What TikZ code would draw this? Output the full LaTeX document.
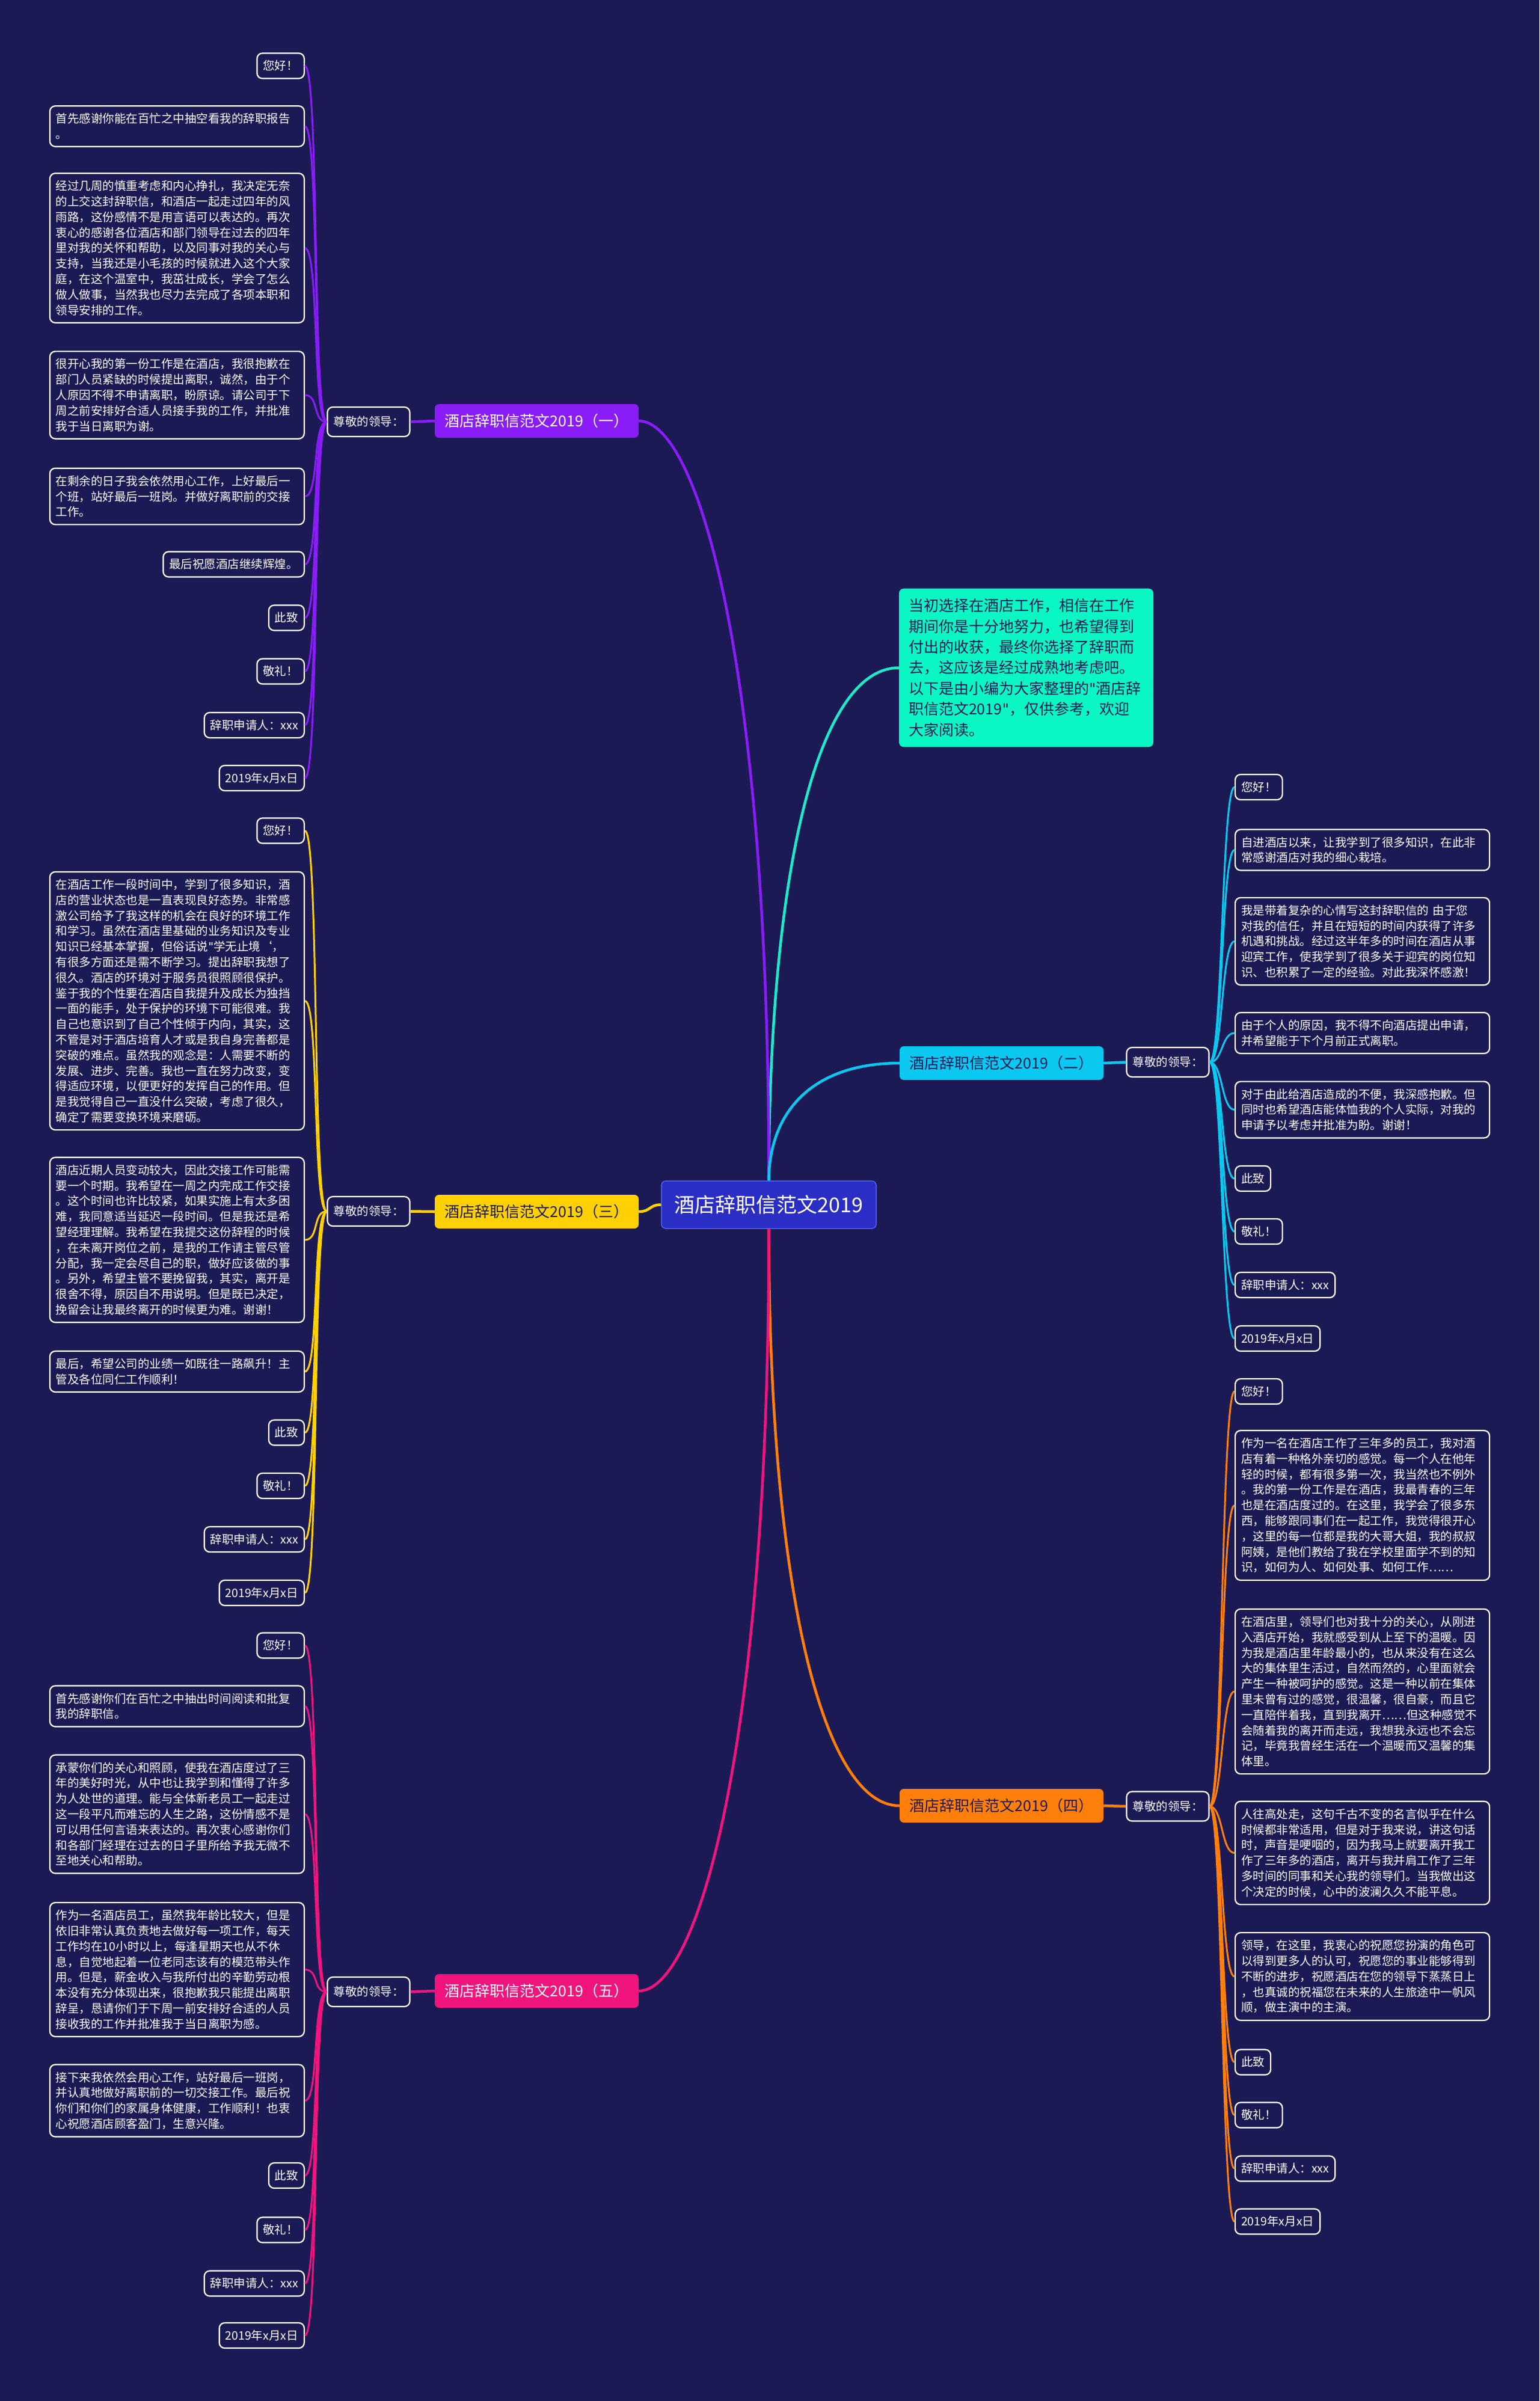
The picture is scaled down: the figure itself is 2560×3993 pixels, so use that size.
\documentclass[tikz,border=0pt]{standalone}
\usepackage{fontspec}
\setmainfont{Noto Sans CJK SC}
\newfontfamily\latinq{DejaVu Sans}
\newcommand{\sq}{{\latinq\symbol{34}}}
\definecolor{bgc}{RGB}{27,26,84}
\definecolor{rootc}{RGB}{42,46,196}
\definecolor{rootb}{RGB}{80,96,255}
\definecolor{introc}{RGB}{10,247,196}
\definecolor{introl}{RGB}{30,233,200}
\definecolor{c1}{RGB}{138,28,247}
\definecolor{c2}{RGB}{11,200,240}
\definecolor{c3}{RGB}{255,209,0}
\definecolor{c4}{RGB}{255,127,13}
\definecolor{c5}{RGB}{240,20,125}
\definecolor{darkt}{RGB}{27,26,84}
\begin{document}
\begin{tikzpicture}[x=1pt,y=-1pt,
  leaf/.style={draw=white, line width=2.2pt, fill=bgc, rounded corners=9pt, text=white,
    font=\fontsize{19.5pt}{25.8pt}\selectfont, inner xsep=10pt, inner ysep=12pt, align=left},
  wide/.style={leaf, text width=403pt},
  hub/.style={leaf, minimum height=49pt},
  branch/.style={rounded corners=7pt, font=\fontsize{25pt}{30pt}\selectfont, minimum width=339pt, minimum height=56pt, inner xsep=15pt},
  rootbox/.style={rounded corners=7pt, fill=rootc, draw=rootb, line width=1.5pt, text=white, font=\fontsize{34pt}{40pt}\selectfont, minimum width=357pt, minimum height=79pt},
  intro/.style={rounded corners=8pt, fill=introc, text=darkt, font=\fontsize{25pt}{34.4pt}\selectfont, text width=391pt, inner xsep=16pt, inner ysep=17pt, align=left},
  main/.style={line width=4.5pt},
  twig/.style={line width=3pt}
]
\fill[bgc] (0,0) rectangle (2560,3993);
\useasboundingbox (0,0) rectangle (2560,3993);

% root and intro
\node[rootbox] (root) at (1278.5,2003.5) {酒店辞职信范文2019};
\node[intro] (intro) at (1706.5,1110.5) {当初选择在酒店工作，相信在工作\\期间你是十分地努力，也希望得到\\付出的收获，最终你选择了辞职而\\去，这应该是经过成熟地考虑吧。\\以下是由小编为大家整理的\sq 酒店辞\\职信范文2019\sq ，仅供参考，欢迎\\大家阅读。};

% branch titles
\node[branch, fill=c1, text=white] (b1) at (892.5,700) {酒店辞职信范文2019（一）};
\node[branch, fill=c2, text=darkt] (b2) at (1665.5,1768) {酒店辞职信范文2019（二）};
\node[branch, fill=c3, text=darkt] (b3) at (892.5,2015) {酒店辞职信范文2019（三）};
\node[branch, fill=c4, text=darkt] (b4) at (1665.5,3003) {酒店辞职信范文2019（四）};
\node[branch, fill=c5, text=white] (b5) at (892.5,3311) {酒店辞职信范文2019（五）};

% hubs
\node[hub] (z1) at (613,701.5) {尊敬的领导：};
\node[hub] (z2) at (1942,1766.5) {尊敬的领导：};
\node[hub] (z3) at (613,2014.5) {尊敬的领导：};
\node[hub] (z4) at (1942,3004) {尊敬的领导：};
\node[hub] (z5) at (613,3312.5) {尊敬的领导：};

% root connectors
\draw[main, introl] (root.north) .. controls (1279,1450) and (1360,1110.5) .. (intro.west);
\draw[main, c1] (root.north) .. controls (1279,1100) and (1160,700) .. (b1.east);
\draw[main, c2] (root.north) .. controls (1279,1850) and (1350,1768) .. (b2.west);
\draw[main, c3] (root.west) .. controls +(-20,0) and +(20,0) .. (b3.east);
\draw[main, c4] (root.south) .. controls (1279,2650) and (1370,3003) .. (b4.west);
\draw[main, c5] (root.south) .. controls (1279,2907) and (1160,3311) .. (b5.east);

% branch to hub
\draw[main, c1] (b1.west) -- (z1.east);
\draw[main, c2] (b2.east) -- (z2.west);
\draw[main, c3] (b3.west) -- (z3.east);
\draw[main, c4] (b4.east) -- (z4.west);
\draw[main, c5] (b5.west) -- (z5.east);

% ---------- branch 1 leaves
\node[leaf, anchor=east] (a1) at (507,109.5) {您好！};
\node[wide, anchor=east] (a2) at (507,210) {首先感谢你能在百忙之中抽空看我的辞职报告\\。};
\node[wide, anchor=east] (a3) at (507,412.5) {经过几周的慎重考虑和内心挣扎，我决定无奈\\的上交这封辞职信，和酒店一起走过四年的风\\雨路，这份感情不是用言语可以表达的。再次\\衷心的感谢各位酒店和部门领导在过去的四年\\里对我的关怀和帮助，以及同事对我的关心与\\支持，当我还是小毛孩的时候就进入这个大家\\庭，在这个温室中，我茁壮成长，学会了怎么\\做人做事，当然我也尽力去完成了各项本职和\\领导安排的工作。};
\node[wide, anchor=east] (a4) at (507,657) {很开心我的第一份工作是在酒店，我很抱歉在\\部门人员紧缺的时候提出离职，诚然，由于个\\人原因不得不申请离职，盼原谅。请公司于下\\周之前安排好合适人员接手我的工作，并批准\\我于当日离职为谢。};
\node[wide, anchor=east] (a5) at (507,825.5) {在剩余的日子我会依然用心工作，上好最后一\\个班，站好最后一班岗。并做好离职前的交接\\工作。};
\node[leaf, anchor=east] (a6) at (507,938.5) {最后祝愿酒店继续辉煌。};
\node[leaf, anchor=east] (a7) at (507,1027.5) {此致};
\node[leaf, anchor=east] (a8) at (507,1116.5) {敬礼！};
\node[leaf, anchor=east] (a9) at (507,1206) {辞职申请人：xxx};
\node[leaf, anchor=east] (a10) at (507,1294) {2019年x月x日};
\foreach \n in {a1,a2,a3,a4,a5,a6,a7,a8,a9,a10}
  \draw[twig, c1] (z1.west) .. controls +(-24,0) and +(24,0) .. (\n.east);

% ---------- branch 3 leaves
\node[leaf, anchor=east] (c31) at (507,1381.5) {您好！};
\node[wide, anchor=east] (c32) at (507,1664.5) {在酒店工作一段时间中，学到了很多知识，酒\\店的营业状态也是一直表现良好态势。非常感\\激公司给予了我这样的机会在良好的环境工作\\和学习。虽然在酒店里基础的业务知识及专业\\知识已经基本掌握，但俗话说\sq 学无止境‘，\\有很多方面还是需不断学习。提出辞职我想了\\很久。酒店的环境对于服务员很照顾很保护。\\鉴于我的个性要在酒店自我提升及成长为独挡\\一面的能手，处于保护的环境下可能很难。我\\自己也意识到了自己个性倾于内向，其实，这\\不管是对于酒店培育人才或是我自身完善都是\\突破的难点。虽然我的观念是：人需要不断的\\发展、进步、完善。我也一直在努力改变，变\\得适应环境，以便更好的发挥自己的作用。但\\是我觉得自己一直没什么突破，考虑了很久，\\确定了需要变换环境来磨砺。};
\node[wide, anchor=east] (c33) at (507,2062) {酒店近期人员变动较大，因此交接工作可能需\\要一个时期。我希望在一周之内完成工作交接\\。这个时间也许比较紧，如果实施上有太多困\\难，我同意适当延迟一段时间。但是我还是希\\望经理理解。我希望在我提交这份辞程的时候\\，在未离开岗位之前，是我的工作请主管尽管\\分配，我一定会尽自己的职，做好应该做的事\\。另外，希望主管不要挽留我，其实，离开是\\很舍不得，原因自不用说明。但是既已决定，\\挽留会让我最终离开的时候更为难。谢谢！};
\node[wide, anchor=east] (c34) at (507,2281) {最后，希望公司的业绩一如既往一路飙升！主\\管及各位同仁工作顺利！};
\node[leaf, anchor=east] (c35) at (507,2382.5) {此致};
\node[leaf, anchor=east] (c36) at (507,2471) {敬礼！};
\node[leaf, anchor=east] (c37) at (507,2560) {辞职申请人：xxx};
\node[leaf, anchor=east] (c38) at (507,2649) {2019年x月x日};
\foreach \n in {c31,c32,c33,c34,c35,c36,c37,c38}
  \draw[twig, c3] (z3.west) .. controls +(-24,0) and +(24,0) .. (\n.east);

% ---------- branch 5 leaves
\node[leaf, anchor=east] (e1) at (507,2736.5) {您好！};
\node[wide, anchor=east] (e2) at (507,2837.5) {首先感谢你们在百忙之中抽出时间阅读和批复\\我的辞职信。};
\node[wide, anchor=east] (e3) at (507,3017) {承蒙你们的关心和照顾，使我在酒店度过了三\\年的美好时光，从中也让我学到和懂得了许多\\为人处世的道理。能与全体新老员工一起走过\\这一段平凡而难忘的人生之路，这份情感不是\\可以用任何言语来表达的。再次衷心感谢你们\\和各部门经理在过去的日子里所给予我无微不\\至地关心和帮助。};
\node[wide, anchor=east] (e4) at (507,3275.5) {作为一名酒店员工，虽然我年龄比较大，但是\\依旧非常认真负责地去做好每一项工作，每天\\工作均在10小时以上，每逢星期天也从不休\\息，自觉地起着一位老同志该有的模范带头作\\用。但是，薪金收入与我所付出的辛勤劳动根\\本没有充分体现出来，很抱歉我只能提出离职\\辞呈，恳请你们于下周一前安排好合适的人员\\接收我的工作并批准我于当日离职为感。};
\node[wide, anchor=east] (e5) at (507,3493.5) {接下来我依然会用心工作，站好最后一班岗，\\并认真地做好离职前的一切交接工作。最后祝\\你们和你们的家属身体健康，工作顺利！也衷\\心祝愿酒店顾客盈门，生意兴隆。};
\node[leaf, anchor=east] (e6) at (507,3618) {此致};
\node[leaf, anchor=east] (e7) at (507,3708.5) {敬礼！};
\node[leaf, anchor=east] (e8) at (507,3797.5) {辞职申请人：xxx};
\node[leaf, anchor=east] (e9) at (507,3884) {2019年x月x日};
\foreach \n in {e1,e2,e3,e4,e5,e6,e7,e8,e9}
  \draw[twig, c5] (z5.west) .. controls +(-24,0) and +(24,0) .. (\n.east);

% ---------- branch 2 leaves
\node[leaf, anchor=west] (d1) at (2053,1309) {您好！};
\node[wide, anchor=west] (d2) at (2053,1413.5) {自进酒店以来，让我学到了很多知识，在此非\\常感谢酒店对我的细心栽培。};
\node[wide, anchor=west] (d3) at (2053,1565.5) {我是带着复杂的心情写这封辞职信的 由于您\\对我的信任，并且在短短的时间内获得了许多\\机遇和挑战。经过这半年多的时间在酒店从事\\迎宾工作，使我学到了很多关于迎宾的岗位知\\识、也积累了一定的经验。对此我深怀感激！};
\node[wide, anchor=west] (d4) at (2053,1718) {由于个人的原因，我不得不向酒店提出申请，\\并希望能于下个月前正式离职。};
\node[wide, anchor=west] (d5) at (2053,1845.5) {对于由此给酒店造成的不便，我深感抱歉。但\\同时也希望酒店能体恤我的个人实际，对我的\\申请予以考虑并批准为盼。谢谢！};
\node[leaf, anchor=west] (d6) at (2053,1960) {此致};
\node[leaf, anchor=west] (d7) at (2053,2048) {敬礼！};
\node[leaf, anchor=west] (d8) at (2053,2137) {辞职申请人：xxx};
\node[leaf, anchor=west] (d9) at (2053,2226) {2019年x月x日};
\foreach \n in {d1,d2,d3,d4,d5,d6,d7,d8,d9}
  \draw[twig, c2] (z2.east) .. controls +(22,0) and +(-22,0) .. (\n.west);

% ---------- branch 4 leaves
\node[leaf, anchor=west] (f1) at (2053,2314) {您好！};
\node[wide, anchor=west] (f2) at (2053,2503.5) {作为一名在酒店工作了三年多的员工，我对酒\\店有着一种格外亲切的感觉。每一个人在他年\\轻的时候，都有很多第一次，我当然也不例外\\。我的第一份工作是在酒店，我最青春的三年\\也是在酒店度过的。在这里，我学会了很多东\\西，能够跟同事们在一起工作，我觉得很开心\\，这里的每一位都是我的大哥大姐，我的叔叔\\阿姨，是他们教给了我在学校里面学不到的知\\识，如何为人、如何处事、如何工作……};
\node[wide, anchor=west] (f3) at (2053,2813) {在酒店里，领导们也对我十分的关心，从刚进\\入酒店开始，我就感受到从上至下的温暖。因\\为我是酒店里年龄最小的，也从来没有在这么\\大的集体里生活过，自然而然的，心里面就会\\产生一种被呵护的感觉。这是一种以前在集体\\里未曾有过的感觉，很温馨，很自豪，而且它\\一直陪伴着我，直到我离开……但这种感觉不\\会随着我的离开而走远，我想我永远也不会忘\\记，毕竟我曾经生活在一个温暖而又温馨的集\\体里。};
\node[wide, anchor=west] (f4) at (2053,3081.5) {人往高处走，这句千古不变的名言似乎在什么\\时候都非常适用，但是对于我来说，讲这句话\\时，声音是哽咽的，因为我马上就要离开我工\\作了三年多的酒店，离开与我并肩工作了三年\\多时间的同事和关心我的领导们。当我做出这\\个决定的时候，心中的波澜久久不能平息。};
\node[wide, anchor=west] (f5) at (2053,3287) {领导，在这里，我衷心的祝愿您扮演的角色可\\以得到更多人的认可，祝愿您的事业能够得到\\不断的进步，祝愿酒店在您的领导下蒸蒸日上\\，也真诚的祝福您在未来的人生旅途中一帆风\\顺，做主演中的主演。};
\node[leaf, anchor=west] (f6) at (2053,3429.5) {此致};
\node[leaf, anchor=west] (f7) at (2053,3517.5) {敬礼！};
\node[leaf, anchor=west] (f8) at (2053,3606.5) {辞职申请人：xxx};
\node[leaf, anchor=west] (f9) at (2053,3694.5) {2019年x月x日};
\foreach \n in {f1,f2,f3,f4,f5,f6,f7,f8,f9}
  \draw[twig, c4] (z4.east) .. controls +(22,0) and +(-22,0) .. (\n.west);
\end{tikzpicture}
\end{document}
